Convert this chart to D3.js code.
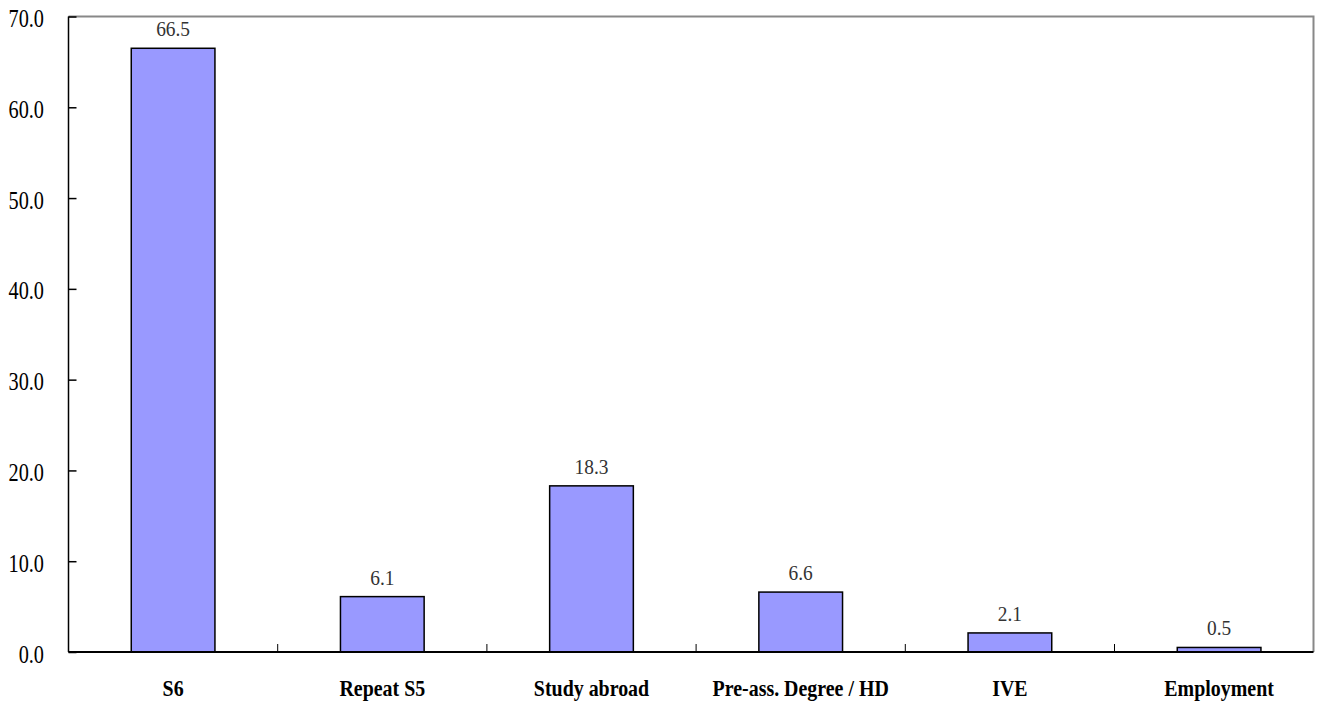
<!DOCTYPE html>
<html><head><meta charset="utf-8">
<script src="https://cdn.jsdelivr.net/npm/d3@7"></script>
<style>body{margin:0;background:#fff}svg{display:block}</style>
</head><body>
<svg id="c" width="1326" height="704"></svg>
<script>
const categories = ["S6","Repeat S5","Study abroad","Pre-ass. Degree / HD","IVE","Employment"];
const values = [66.5, 6.1, 18.3, 6.6, 2.1, 0.5];
const yTicks = [0,10,20,30,40,50,60,70];

const svg = d3.select("#c");
const L = 68.5, R = 1313.5, T = 16.5, B = 652;
const step = 209.2;
const x = d3.scaleBand().domain(categories).range([L, L + step*categories.length]).padding(0);
const y = d3.scaleLinear().domain([0,70]).range([B, T]);
const font = "'Liberation Serif', serif";

svg.append("path").attr("d",`M${L},${T}H${R}V${B}`).attr("fill","none").attr("stroke","#888").attr("stroke-width",2);

const bw = x.bandwidth()*0.4;
svg.selectAll("rect.bar").data(values).join("rect")
  .attr("x",(d,i)=>x(categories[i])+x.bandwidth()/2-bw/2)
  .attr("y",d=>y(d)).attr("width",bw).attr("height",d=>B-y(d))
  .attr("fill","#9999FF").attr("stroke","#000").attr("stroke-width",1.5);

svg.selectAll("text.val").data(values).join("text")
  .attr("transform",(d,i)=>`translate(${x(categories[i])+x.bandwidth()/2},${y(d)-12}) scale(0.88,1)`)
  .attr("text-anchor","middle").attr("font-family",font).attr("font-size",22)
  .attr("fill","#333").text(d=>d.toFixed(1));

const ya = svg.append("g").attr("transform",`translate(${L},0)`)
  .call(d3.axisRight(y).tickValues(yTicks).tickSize(8).tickFormat(d=>d.toFixed(1)));
ya.select(".domain").remove();
ya.selectAll(".tick line").attr("stroke","#000").attr("stroke-width",1.5);
ya.selectAll(".tick text").attr("x",null).attr("dy",null)
  .attr("transform","translate(-24.5,10) scale(0.78,1)").attr("text-anchor","end")
  .attr("font-family",font).attr("font-size",26).attr("fill","#000");
svg.append("line").attr("x1",L).attr("x2",L).attr("y1",T).attr("y2",B).attr("stroke","#000").attr("stroke-width",1.5);

svg.append("line").attr("x1",L).attr("x2",R).attr("y1",B).attr("y2",B).attr("stroke","#000").attr("stroke-width",2);
const bounds = categories.slice(1).map(c=>x(c));
svg.selectAll("line.xt").data(bounds).join("line")
  .attr("x1",d=>d).attr("x2",d=>d).attr("y1",B).attr("y2",B-8).attr("stroke","#000").attr("stroke-width",1);
svg.selectAll("text.cat").data(categories).join("text")
  .attr("transform",d=>`translate(${x(d)+x.bandwidth()/2},696) scale(0.83,1)`)
  .attr("text-anchor","middle").attr("font-family",font).attr("font-size",24).attr("font-weight","bold")
  .attr("fill","#000").text(d=>d);
</script>
</body></html>
